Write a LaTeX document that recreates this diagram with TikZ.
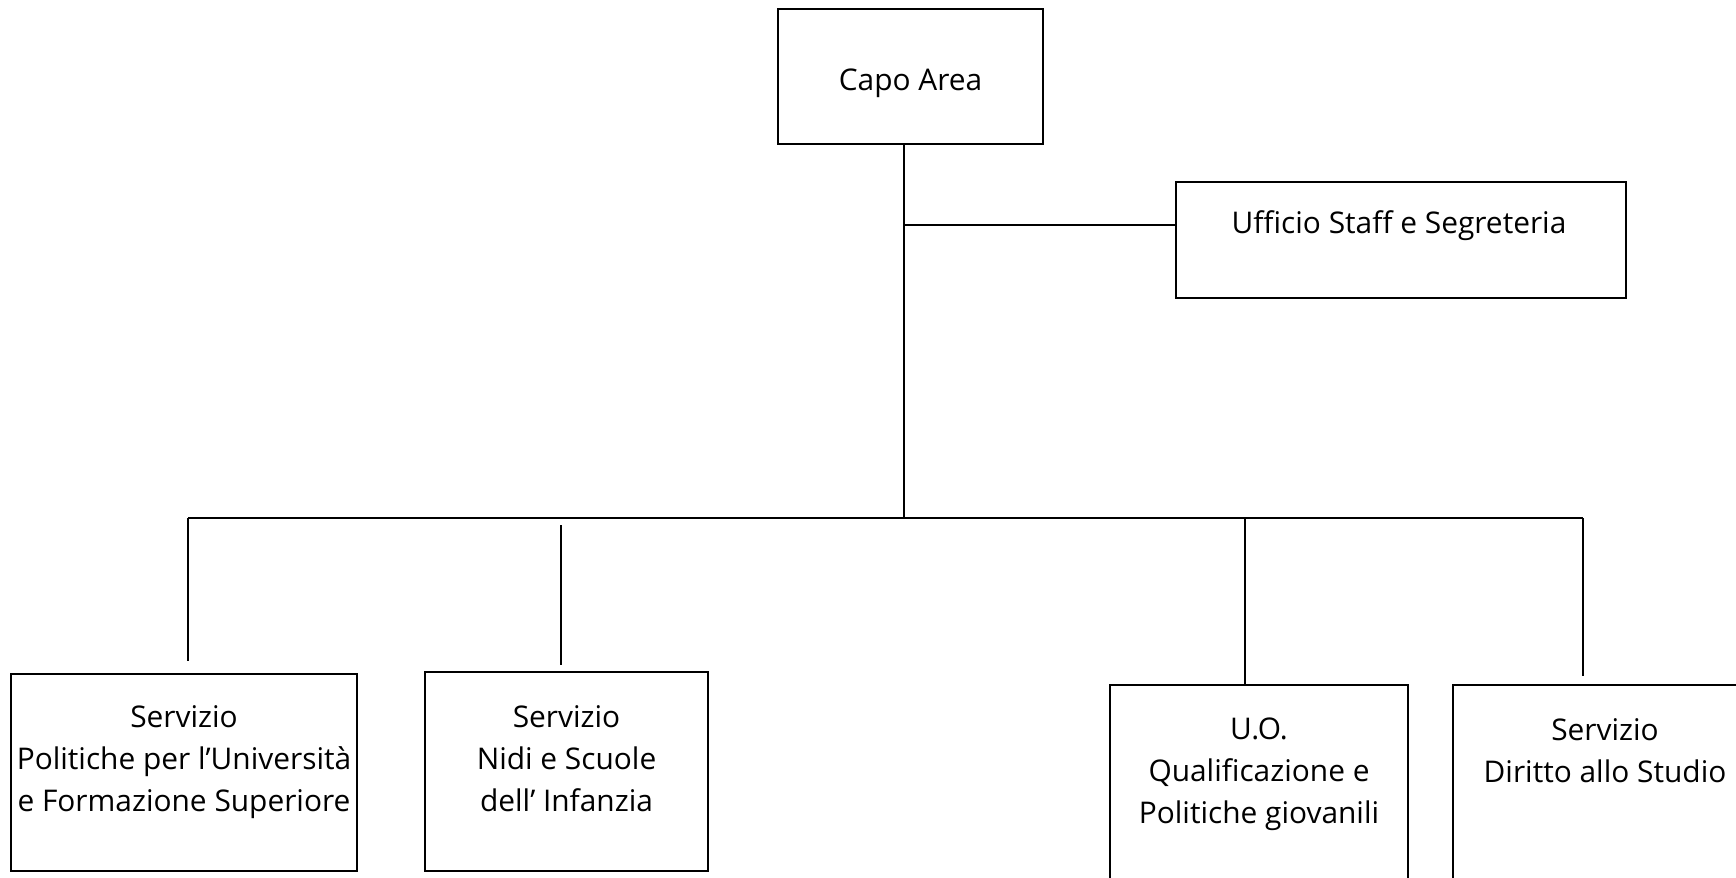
\documentclass[tikz,border=0pt]{standalone}
\usepackage{fontspec}
\setmainfont{Open Sans}
\usetikzlibrary{positioning, calc}

\begin{document}
\begin{tikzpicture}[x=0.02cm, y=-0.02cm, line width=0.8pt,
    unit/.style={draw, rectangle, inner sep=0pt, font=\fontsize{17}{24}\selectfont},
    txt/.style={align=center, inner sep=0pt, anchor=north, font=\fontsize{17}{24}\selectfont}]
    \useasboundingbox (0,0) rectangle (1736,878);
    \node[unit, minimum width=5.30cm, minimum height=2.70cm, text height=20pt] (capo) at (910.5,76.5) {Capo Area};
    \node[unit, minimum width=9.00cm, minimum height=2.32cm] (staff) at (1401,240) {};
    \node[txt] (stafftxt) at (1399,210) {Ufficio Staff e Segreteria};
    \node[unit, minimum width=6.92cm, minimum height=3.94cm] (uni) at (184,772.5) {};
    \node[unit, minimum width=5.66cm, minimum height=3.98cm] (nidi) at (566.5,771.5) {};
    \node[unit, minimum width=5.96cm, minimum height=4.00cm] (uo) at (1259,785) {};
    \node[unit, minimum width=6.08cm, minimum height=4.00cm] (dsu) at (1605,785) {};
    \node[txt] (unitxt) at (184,705) {Servizio\\Politiche per l'Università\\e Formazione Superiore};
    \node[txt] (niditxt) at (566.5,705) {Servizio\\Nidi e Scuole\\dell' Infanzia};
    \node[txt] (uotxt) at (1259,717) {U.O.\\Qualificazione e\\Politiche giovanili};
    \node[txt] (dsutxt) at (1605,718) {Servizio\\Diritto allo Studio};
    \coordinate (fork) at (904,518);
    \coordinate (tap) at (904,225);
    \coordinate (busL) at (188,518);
    \coordinate (busR) at (1583,518);
    \coordinate (drop2) at (561,525);
    \coordinate (drop3) at (1245,518);
    \draw (capo.south -| fork) -- (fork);
    \draw (tap) -- (tap -| staff.west);
    \draw (busL) -- (busR);
    \draw (busL) -- ([yshift=0.24cm]busL |- uni.north);
    \draw (drop2) -- ([yshift=0.12cm]drop2 |- nidi.north);
    \draw (drop3) -- (drop3 |- uo.north);
    \draw (busR) -- ([yshift=0.16cm]busR |- dsu.north);
\end{tikzpicture}
\end{document}
